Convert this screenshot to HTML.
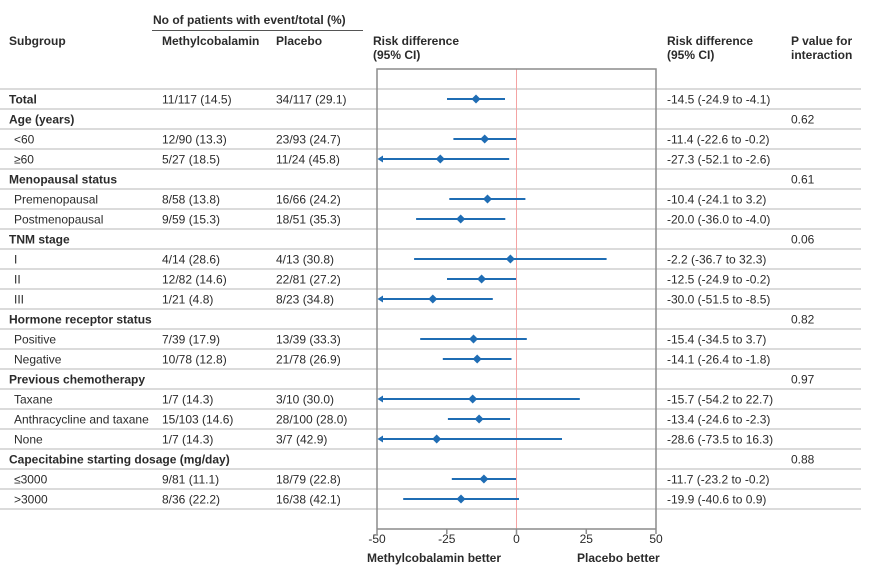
<!DOCTYPE html>
<html><head><meta charset="utf-8"><style>
html,body{margin:0;padding:0;background:#fff;}
svg{display:block;}
text{font-family:"Liberation Sans",Arial,sans-serif;font-size:12px;fill:#2b2b2b;}
.b{font-weight:bold;}
</style></head><body>
<svg width="869" height="568" viewBox="0 0 869 568" xmlns="http://www.w3.org/2000/svg">
<!-- header -->
<text class="b" x="153" y="24">No of patients with event/total (%)</text>
<line x1="152" y1="30.5" x2="363" y2="30.5" stroke="#555" stroke-width="1"/>
<text class="b" x="9" y="45">Subgroup</text>
<text class="b" x="162" y="45">Methylcobalamin</text>
<text class="b" x="276" y="45">Placebo</text>
<text class="b" x="373" y="45">Risk difference</text>
<text class="b" x="373" y="59">(95% CI)</text>
<text class="b" x="667" y="45">Risk difference</text>
<text class="b" x="667" y="59">(95% CI)</text>
<text class="b" x="791" y="45">P value for</text>
<text class="b" x="791" y="59">interaction</text>

<!-- row lines -->
<g stroke="#cfcfcf" stroke-width="1.5">
<line x1="0" y1="89" x2="861" y2="89"/><line x1="0" y1="109" x2="861" y2="109"/>
<line x1="0" y1="129" x2="861" y2="129"/><line x1="0" y1="149" x2="861" y2="149"/>
<line x1="0" y1="169" x2="861" y2="169"/><line x1="0" y1="189" x2="861" y2="189"/>
<line x1="0" y1="209" x2="861" y2="209"/><line x1="0" y1="229" x2="861" y2="229"/>
<line x1="0" y1="249" x2="861" y2="249"/><line x1="0" y1="269" x2="861" y2="269"/>
<line x1="0" y1="289" x2="861" y2="289"/><line x1="0" y1="309" x2="861" y2="309"/>
<line x1="0" y1="329" x2="861" y2="329"/><line x1="0" y1="349" x2="861" y2="349"/>
<line x1="0" y1="369" x2="861" y2="369"/><line x1="0" y1="389" x2="861" y2="389"/>
<line x1="0" y1="409" x2="861" y2="409"/><line x1="0" y1="429" x2="861" y2="429"/>
<line x1="0" y1="449" x2="861" y2="449"/><line x1="0" y1="469" x2="861" y2="469"/>
<line x1="0" y1="489" x2="861" y2="489"/><line x1="0" y1="509" x2="861" y2="509"/>
</g>

<!-- plot box -->
<line x1="516.5" y1="69" x2="516.5" y2="529" stroke="#f4a3a3" stroke-width="1"/>
<g stroke="#8c8c8c" stroke-width="1.5" fill="none">
<polyline points="377,529 377,69 656,69 656,529"/>
<line x1="377" y1="529" x2="656" y2="529"/>
<line x1="377" y1="529" x2="377" y2="534"/>
<line x1="446.8" y1="529" x2="446.8" y2="534"/>
<line x1="516.5" y1="529" x2="516.5" y2="534"/>
<line x1="586.3" y1="529" x2="586.3" y2="534"/>
<line x1="656" y1="529" x2="656" y2="534"/>
</g>
<g text-anchor="middle">
<text x="377" y="543">-50</text>
<text x="446.8" y="543">-25</text>
<text x="516.5" y="543">0</text>
<text x="586.3" y="543">25</text>
<text x="656" y="543">50</text>
</g>
<text class="b" x="367" y="562">Methylcobalamin better</text>
<text class="b" x="577" y="562">Placebo better</text>

<!-- CI lines -->
<g stroke="#1f6db4" stroke-width="2">
<line x1="447" y1="99" x2="505" y2="99"/>
<line x1="453.4" y1="139" x2="516" y2="139"/>
<line x1="380" y1="159" x2="509.2" y2="159"/>
<line x1="449.3" y1="199" x2="525.4" y2="199"/>
<line x1="416.1" y1="219" x2="505.3" y2="219"/>
<line x1="414.1" y1="259" x2="606.6" y2="259"/>
<line x1="447" y1="279" x2="516" y2="279"/>
<line x1="380" y1="299" x2="492.8" y2="299"/>
<line x1="420.2" y1="339" x2="526.8" y2="339"/>
<line x1="442.8" y1="359" x2="511.5" y2="359"/>
<line x1="380" y1="399" x2="579.8" y2="399"/>
<line x1="447.9" y1="419" x2="510.1" y2="419"/>
<line x1="380" y1="439" x2="562" y2="439"/>
<line x1="451.8" y1="479" x2="516" y2="479"/>
<line x1="403.2" y1="499" x2="519" y2="499"/>
</g>
<g fill="#1f6db4">
<!-- arrows -->
<polygon points="377.5,159 383,155.5 383,162.5"/>
<polygon points="377.5,299 383,295.5 383,302.5"/>
<polygon points="377.5,399 383,395.5 383,402.5"/>
<polygon points="377.5,439 383,435.5 383,442.5"/>
<!-- diamonds -->
<polygon points="476.0,94.5 480.5,99 476.0,103.5 471.5,99"/>
<polygon points="484.7,134.5 489.2,139 484.7,143.5 480.2,139"/>
<polygon points="440.3,154.5 444.8,159 440.3,163.5 435.8,159"/>
<polygon points="487.5,194.5 492,199 487.5,203.5 483,199"/>
<polygon points="460.7,214.5 465.2,219 460.7,223.5 456.2,219"/>
<polygon points="510.4,254.5 514.9,259 510.4,263.5 505.9,259"/>
<polygon points="481.6,274.5 486.1,279 481.6,283.5 477.1,279"/>
<polygon points="432.8,294.5 437.3,299 432.8,303.5 428.3,299"/>
<polygon points="473.5,334.5 478,339 473.5,343.5 469,339"/>
<polygon points="477.2,354.5 481.7,359 477.2,363.5 472.7,359"/>
<polygon points="472.7,394.5 477.2,399 472.7,403.5 468.2,399"/>
<polygon points="479.1,414.5 483.6,419 479.1,423.5 474.6,419"/>
<polygon points="436.7,434.5 441.2,439 436.7,443.5 432.2,439"/>
<polygon points="483.9,474.5 488.4,479 483.9,483.5 479.4,479"/>
<polygon points="461,494.5 465.5,499 461,503.5 456.5,499"/>
</g>

<!-- left table -->
<text class="b" x="9" y="103.3">Total</text>
<text x="162" y="103.3">11/117 (14.5)</text>
<text x="276" y="103.3">34/117 (29.1)</text>
<text class="b" x="9" y="123.3">Age (years)</text>
<text x="14" y="143.3">&lt;60</text><text x="162" y="143.3">12/90 (13.3)</text><text x="276" y="143.3">23/93 (24.7)</text>
<text x="14" y="163.3">≥60</text><text x="162" y="163.3">5/27 (18.5)</text><text x="276" y="163.3">11/24 (45.8)</text>
<text class="b" x="9" y="183.3">Menopausal status</text>
<text x="14" y="203.3">Premenopausal</text><text x="162" y="203.3">8/58 (13.8)</text><text x="276" y="203.3">16/66 (24.2)</text>
<text x="14" y="223.3">Postmenopausal</text><text x="162" y="223.3">9/59 (15.3)</text><text x="276" y="223.3">18/51 (35.3)</text>
<text class="b" x="9" y="243.3">TNM stage</text>
<text x="14" y="263.3">I</text><text x="162" y="263.3">4/14 (28.6)</text><text x="276" y="263.3">4/13 (30.8)</text>
<text x="14" y="283.3">II</text><text x="162" y="283.3">12/82 (14.6)</text><text x="276" y="283.3">22/81 (27.2)</text>
<text x="14" y="303.3">III</text><text x="162" y="303.3">1/21 (4.8)</text><text x="276" y="303.3">8/23 (34.8)</text>
<text class="b" x="9" y="323.3">Hormone receptor status</text>
<text x="14" y="343.3">Positive</text><text x="162" y="343.3">7/39 (17.9)</text><text x="276" y="343.3">13/39 (33.3)</text>
<text x="14" y="363.3">Negative</text><text x="162" y="363.3">10/78 (12.8)</text><text x="276" y="363.3">21/78 (26.9)</text>
<text class="b" x="9" y="383.3">Previous chemotherapy</text>
<text x="14" y="403.3">Taxane</text><text x="162" y="403.3">1/7 (14.3)</text><text x="276" y="403.3">3/10 (30.0)</text>
<text x="14" y="423.3">Anthracycline and taxane</text><text x="162" y="423.3">15/103 (14.6)</text><text x="276" y="423.3">28/100 (28.0)</text>
<text x="14" y="443.3">None</text><text x="162" y="443.3">1/7 (14.3)</text><text x="276" y="443.3">3/7 (42.9)</text>
<text class="b" x="9" y="463.3">Capecitabine starting dosage (mg/day)</text>
<text x="14" y="483.3">≤3000</text><text x="162" y="483.3">9/81 (11.1)</text><text x="276" y="483.3">18/79 (22.8)</text>
<text x="14" y="503.3">&gt;3000</text><text x="162" y="503.3">8/36 (22.2)</text><text x="276" y="503.3">16/38 (42.1)</text>

<!-- right table -->
<text x="667" y="103.3">-14.5 (-24.9 to -4.1)</text>
<text x="791" y="123.3">0.62</text>
<text x="667" y="143.3">-11.4 (-22.6 to -0.2)</text>
<text x="667" y="163.3">-27.3 (-52.1 to -2.6)</text>
<text x="791" y="183.3">0.61</text>
<text x="667" y="203.3">-10.4 (-24.1 to 3.2)</text>
<text x="667" y="223.3">-20.0 (-36.0 to -4.0)</text>
<text x="791" y="243.3">0.06</text>
<text x="667" y="263.3">-2.2 (-36.7 to 32.3)</text>
<text x="667" y="283.3">-12.5 (-24.9 to -0.2)</text>
<text x="667" y="303.3">-30.0 (-51.5 to -8.5)</text>
<text x="791" y="323.3">0.82</text>
<text x="667" y="343.3">-15.4 (-34.5 to 3.7)</text>
<text x="667" y="363.3">-14.1 (-26.4 to -1.8)</text>
<text x="791" y="383.3">0.97</text>
<text x="667" y="403.3">-15.7 (-54.2 to 22.7)</text>
<text x="667" y="423.3">-13.4 (-24.6 to -2.3)</text>
<text x="667" y="443.3">-28.6 (-73.5 to 16.3)</text>
<text x="791" y="463.3">0.88</text>
<text x="667" y="483.3">-11.7 (-23.2 to -0.2)</text>
<text x="667" y="503.3">-19.9 (-40.6 to 0.9)</text>
</svg>
</body></html>
